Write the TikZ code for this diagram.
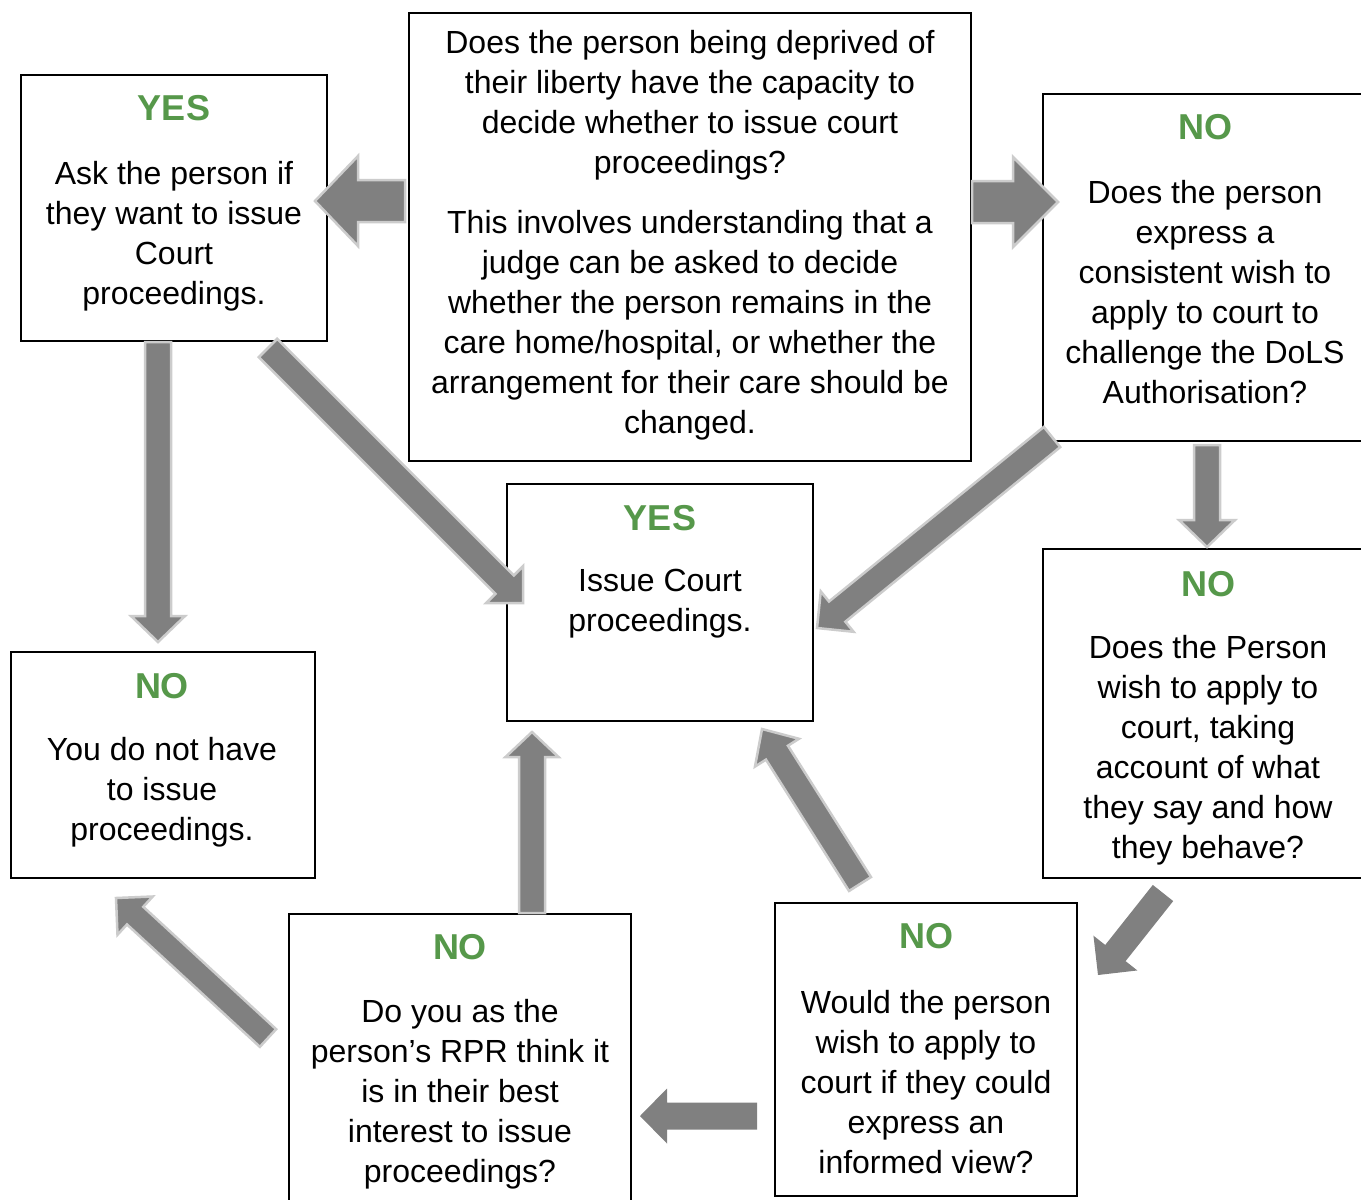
\documentclass[tikz,border=0pt]{standalone}
\usepackage{fontspec}
\setmainfont{Liberation Sans}
\usetikzlibrary{calc}
\definecolor{headgreen}{RGB}{86,152,74}
\definecolor{arrowfill}{RGB}{128,128,128}
\definecolor{arrowedge}{RGB}{204,204,204}
% #1 style, #2 tail, #3 tip, #4 shaft half width, #5 head half width, #6 head length
\newcommand{\blockarrow}[6]{%
  \path[#1] ($(#2)!#4!90:(#3)$) -- ($(#3)!#6!(#2)!#4!-90:(#2)$) -- ($(#3)!#6!(#2)!#5!-90:(#2)$) -- (#3) -- ($(#3)!#6!(#2)!#5!90:(#2)$) -- ($(#3)!#6!(#2)!#4!90:(#2)$) -- ($(#2)!#4!-90:(#3)$) -- cycle;}
\tikzset{
  box/.style={draw=black, line width=1.8pt, rectangle, inner sep=0pt, outer sep=0pt},
  txt/.style={align=center, inner sep=0pt, font=\fontsize{32}{40}\selectfont},
  head/.style={inner sep=0pt, text=headgreen, font=\fontsize{36}{40}\selectfont\bfseries},
  barrow/.style={fill=arrowfill, draw=arrowedge, line width=2.5pt, line join=miter},
  plainarrow/.style={fill=arrowfill, draw=none}
}
\begin{document}
\begin{tikzpicture}[x=1pt, y=-1pt]
\useasboundingbox (0,0) rectangle (1361,1200);
\clip (0,0) rectangle (1361,1200);
\fill[white] (0,0) rectangle (1361,1200);

% boxes
\node[box, minimum width=562, minimum height=448] (q) at (690,237) {};
\node[box, minimum width=306, minimum height=266] (yes1) at (174,208) {};
\node[box, minimum width=340, minimum height=347] (no1) at (1213,267.5) {};
\node[box, minimum width=306, minimum height=237] (yes2) at (660,602.5) {};
\node[box, minimum width=340, minimum height=329] (no2) at (1213,713.5) {};
\node[box, minimum width=304, minimum height=226] (no3) at (163,765) {};
\node[box, minimum width=342, minimum height=301] (no4) at (460,1064.5) {};
\node[box, minimum width=302, minimum height=293] (no5) at (926,1049.5) {};

% texts
\node[txt] (qt) at (690,235) {Does the person being deprived of\\their liberty have the capacity to\\decide whether to issue court\\proceedings?\\[20pt]This involves understanding that a\\judge can be asked to decide\\whether the person remains in the\\care home/hospital, or whether the\\arrangement for their care should be\\changed.};

\node[head] (yes1h) at (174,108) {YES};
\node[txt] (yes1t) at (174,236) {Ask the person if\\they want to issue\\Court\\proceedings.};

\node[head] (no1h) at (1205,127) {NO};
\node[txt] (no1t) at (1205,292) {Does the person\\express a\\consistent wish to\\apply to court to\\challenge the DoLS\\Authorisation?};

\node[head] (yes2h) at (660,518) {YES};
\node[txt] (yes2t) at (660,604) {Issue Court\\proceedings.};

\node[head] (no2h) at (1208,584) {NO};
\node[txt] (no2t) at (1208,750) {Does the Person\\wish to apply to\\court, taking\\account of what\\they say and how\\they behave?};

\node[head] (no3h) at (162,686) {NO};
\node[txt] (no3t) at (162,792) {You do not have\\to issue\\proceedings.};

\node[head] (no4h) at (460,947) {NO};
\node[txt] (no4t) at (460,1094) {Do you as the\\person’s RPR think it\\is in their best\\interest to issue\\proceedings?};

\node[head] (no5h) at (926,936) {NO};
\node[txt] (no5t) at (926,1082) {Would the person\\wish to apply to\\court if they could\\express an\\informed view?};

% arrow end points
\coordinate (a1s) at (405,201);  \coordinate (a1e) at (315,201);
\coordinate (a2s) at (972,202);  \coordinate (a2e) at (1058,202);
\coordinate (a3s) at (158,342);  \coordinate (a3e) at (158,642);
\coordinate (a4s) at (268,348);  \coordinate (a4e) at (523,603);
\coordinate (a5s) at (1052,437); \coordinate (a5e) at (817,628);
\coordinate (a6s) at (1207,445); \coordinate (a6e) at (1207,547);
\coordinate (a7s) at (1163,893); \coordinate (a7e) at (1098,975);
\coordinate (a8s) at (860,884);  \coordinate (a8e) at (762,729);
\coordinate (a9s) at (532,913);  \coordinate (a9e) at (532,732);
\coordinate (a10s) at (757,1116); \coordinate (a10e) at (640,1116);
\coordinate (a11s) at (268,1038); \coordinate (a11e) at (116,898);

% block arrows
\blockarrow{barrow}{a1s}{a1e}{21pt}{45pt}{43pt}
\blockarrow{barrow}{a2s}{a2e}{21pt}{45pt}{45pt}
\blockarrow{barrow}{a3s}{a3e}{13pt}{27pt}{26pt}
\blockarrow{barrow}{a4s}{a4e}{13pt}{26pt}{26pt}
\blockarrow{barrow}{a5s}{a5e}{13pt}{26pt}{26pt}
\blockarrow{barrow}{a6s}{a6e}{13pt}{28pt}{27pt}
\blockarrow{plainarrow}{a7s}{a7e}{13pt}{28pt}{28pt}
\blockarrow{barrow}{a8s}{a8e}{13pt}{26pt}{28pt}
\blockarrow{barrow}{a9s}{a9e}{13pt}{26.5pt}{25pt}
\blockarrow{plainarrow}{a10s}{a10e}{13.5pt}{27.5pt}{27pt}
\blockarrow{barrow}{a11s}{a11e}{12pt}{26pt}{26pt}
\end{tikzpicture}
\end{document}
